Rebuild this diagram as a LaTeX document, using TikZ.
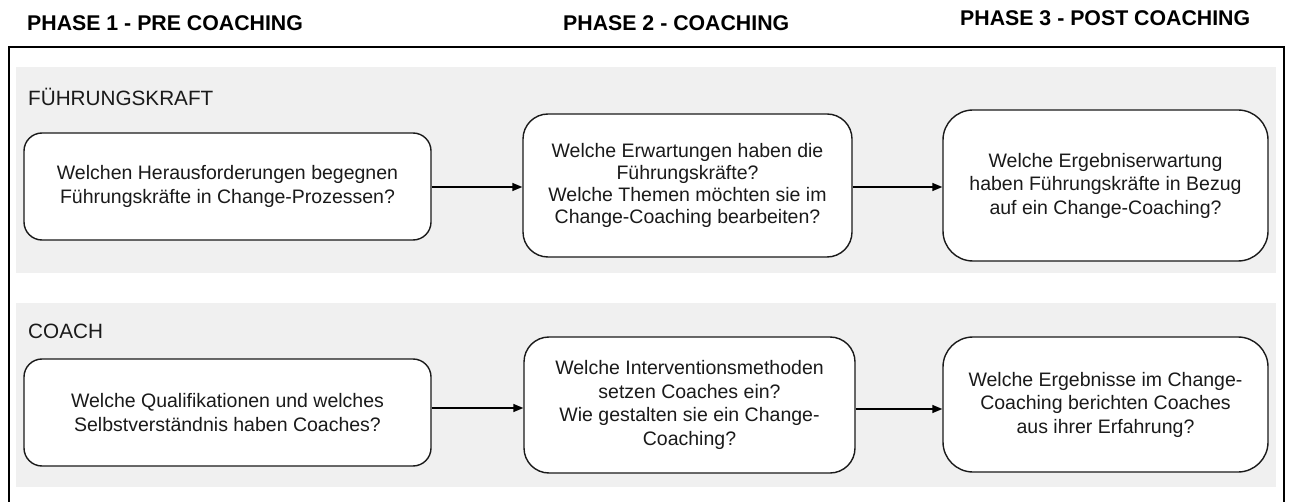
\documentclass[tikz,border=0pt]{standalone}
\usepackage{fontspec}
\setmainfont{Liberation Sans}
\usetikzlibrary{arrows.meta}
\definecolor{bandgrey}{HTML}{F0F0F0}
\definecolor{ink}{HTML}{1A1A1A}
\tikzset{
  band/.style={fill=bandgrey, draw=none, inner sep=0pt, rectangle},
  qbox/.style={draw=ink, fill=white, line width=1.4pt, rectangle, inner sep=0pt,
    align=center, text=ink, font=\fontsize{19.5}{23.5}\selectfont},
  phase/.style={anchor=base west, inner sep=0pt, text=black,
    font=\fontsize{21.3}{24}\selectfont\bfseries},
  lane/.style={anchor=base west, inner sep=0pt, text=ink,
    font=\fontsize{20.7}{24}\selectfont},
  flow/.style={draw=black, line width=1.4pt, -{Triangle[length=10pt,width=8pt]}},
  frame/.style={draw=black, line width=1.4pt}
}
\begin{document}
\begin{tikzpicture}[x=1pt, y=-1pt]
\useasboundingbox (0,0) rectangle (1289,502);

% phase headings
\node[phase] (ph1) at (27,31) {PHASE 1 - PRE COACHING};
\node[phase] (ph2) at (563,31) {PHASE 2 - COACHING};
\node[phase] (ph3) at (960,26) {PHASE 3 - POST COACHING};

% outer frame, open towards the bottom
\draw[frame] (9,502) -- (9,47) -- (1284,47) -- (1284,502);

% swim lanes
\node[band, minimum width=1260pt, minimum height=206pt] (lane1) at (646,170) {};
\node[band, minimum width=1260pt, minimum height=184pt] (lane2) at (646,395) {};
\node[lane] (lab1) at (28,106) {FÜHRUNGSKRAFT};
\node[lane] (lab2) at (28,338) {COACH};

% Führungskraft questions
\node[qbox, rounded corners=18pt, minimum width=407pt, minimum height=107pt] (a1) at (227.5,186.5)
  {Welchen Herausforderungen begegnen\\Führungskräfte in Change-Prozessen?};
\node[qbox, rounded corners=25pt, minimum width=329pt, minimum height=143pt,
  font=\fontsize{19.5}{22.3}\selectfont] (b1) at (687.5,185.5)
  {Welche Erwartungen haben die\\Führungskräfte?\\Welche Themen möchten sie im\\Change-Coaching bearbeiten?};
\node[qbox, rounded corners=30pt, minimum width=325pt, minimum height=151pt] (c1) at (1105.5,185.5)
  {Welche Ergebniserwartung\\haben Führungskräfte in Bezug\\auf ein Change-Coaching?};

% Coach questions
\node[qbox, rounded corners=18pt, minimum width=407pt, minimum height=107pt] (a2) at (227.5,412.5)
  {Welche Qualifikationen und welches\\Selbstverständnis haben Coaches?};
\node[qbox, rounded corners=25pt, minimum width=331pt, minimum height=136pt] (b2) at (689.5,405)
  {Welche Interventionsmethoden\\setzen Coaches ein?\\Wie gestalten sie ein Change-\\Coaching?};
\node[qbox, rounded corners=30pt, minimum width=325pt, minimum height=135pt] (c2) at (1105.5,404.5)
  {Welche Ergebnisse im Change-\\Coaching berichten Coaches\\aus ihrer Erfahrung?};

% connectors
\draw[flow] (a1.east |- 0,187) -- (b1.west |- 0,187);
\draw[flow] (b1.east |- 0,187) -- (c1.west |- 0,187);
\draw[flow] (a2.east |- 0,408) -- (b2.west |- 0,408);
\draw[flow] (b2.east |- 0,409) -- (c2.west |- 0,409);
\end{tikzpicture}
\end{document}
